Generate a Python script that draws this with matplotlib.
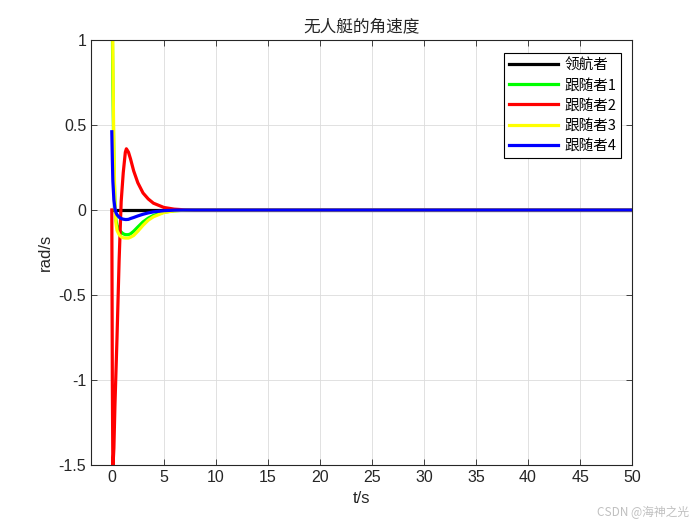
import numpy as np
import matplotlib
matplotlib.use('Agg')
import matplotlib.pyplot as plt

plt.rcParams['font.family'] = ['Liberation Sans', 'Noto Sans CJK SC', 'DejaVu Sans']

# time samples (s) and angular velocity of each vessel (rad/s)
t = [0, 0.05, 0.1, 0.2, 0.3, 0.4, 0.5, 0.7, 0.9, 1.1, 1.3, 1.4, 1.6, 1.8,
     2.1, 2.5, 3.0, 3.5, 4.0, 5.0, 6.0, 7.0, 8.0, 50]

leader = [0] * len(t)
follower1 = [1.5, 1.1, 0.75, 0.28, 0.03, -0.06, -0.09, -0.115, -0.13, -0.14, -0.145, -0.145,
             -0.145, -0.14, -0.125, -0.1, -0.07, -0.048, -0.032, -0.013, -0.004, -0.001, 0, 0]
follower2 = [0, -1.0, -1.52, -1.4, -1.15, -0.95, -0.75, -0.3, 0.05, 0.22, 0.34, 0.36,
             0.34, 0.3, 0.23, 0.16, 0.1, 0.065, 0.04, 0.015, 0.005, 0.001, 0, 0]
follower3 = [1.8, 1.3, 0.9, 0.35, 0.05, -0.08, -0.12, -0.145, -0.158, -0.163, -0.165, -0.165,
             -0.165, -0.16, -0.15, -0.125, -0.09, -0.06, -0.04, -0.015, -0.005, -0.001, 0, 0]
follower4 = [0.46, 0.3, 0.17, 0.06, 0.01, -0.015, -0.028, -0.042, -0.05, -0.054, -0.056, -0.056,
             -0.055, -0.05, -0.044, -0.035, -0.025, -0.017, -0.011, -0.004, -0.001, 0, 0, 0]

series = [leader, follower1, follower2, follower3, follower4]
labels = ['领航者', '跟随者1', '跟随者2', '跟随者3', '跟随者4']
colors = ['#000000', '#00ff00', '#ff0000', '#ffff00', '#0000ff']

fig = plt.figure(figsize=(7, 5.25), dpi=100)
ax = fig.add_axes([0.13, 0.114, 0.773, 0.81])

for y, lab, c in zip(series, labels, colors):
    ax.plot(t, y, color=c, linewidth=2.3, label=lab)

ax.set_xlim(-2, 50)
ax.set_ylim(-1.5, 1)
ax.set_xticks(np.arange(0, 51, 5))
ax.set_yticks([-1.5, -1, -0.5, 0, 0.5, 1])
ax.set_yticklabels(['-1.5', '-1', '-0.5', '0', '0.5', '1'])
ax.tick_params(direction='in', top=True, right=True, length=4, labelsize=11.5,
               width=0.6, colors='#262626')
ax.grid(True, color='#dcdcdc', linewidth=0.6)
for s in ax.spines.values():
    s.set_linewidth(0.8)
    s.set_color('#262626')

ax.set_title('无人艇的角速度', fontsize=12, family=['Noto Sans CJK SC'], color='#262626')
ax.set_xlabel('t/s', fontsize=12, color='#262626')
ax.set_ylabel('rad/s', fontsize=12, color='#262626')

leg = ax.legend(loc='upper right', bbox_to_anchor=(0.98, 0.969), borderaxespad=0,
                fancybox=False, edgecolor='black', framealpha=1,
                handlelength=3.4, borderpad=0.35, labelspacing=0.42, handletextpad=0.4,
                prop={'family': ['Noto Sans CJK SC', 'Liberation Sans'], 'size': 10.5})
leg.get_frame().set_linewidth(0.8)

fig.text(0.985, 0.012, 'CSDN @海神之光', ha='right', va='bottom', fontsize=8.5,
         color='#c0c0c0', family=['Noto Sans CJK SC', 'DejaVu Sans'])

fig.savefig('out.png', dpi=100)
